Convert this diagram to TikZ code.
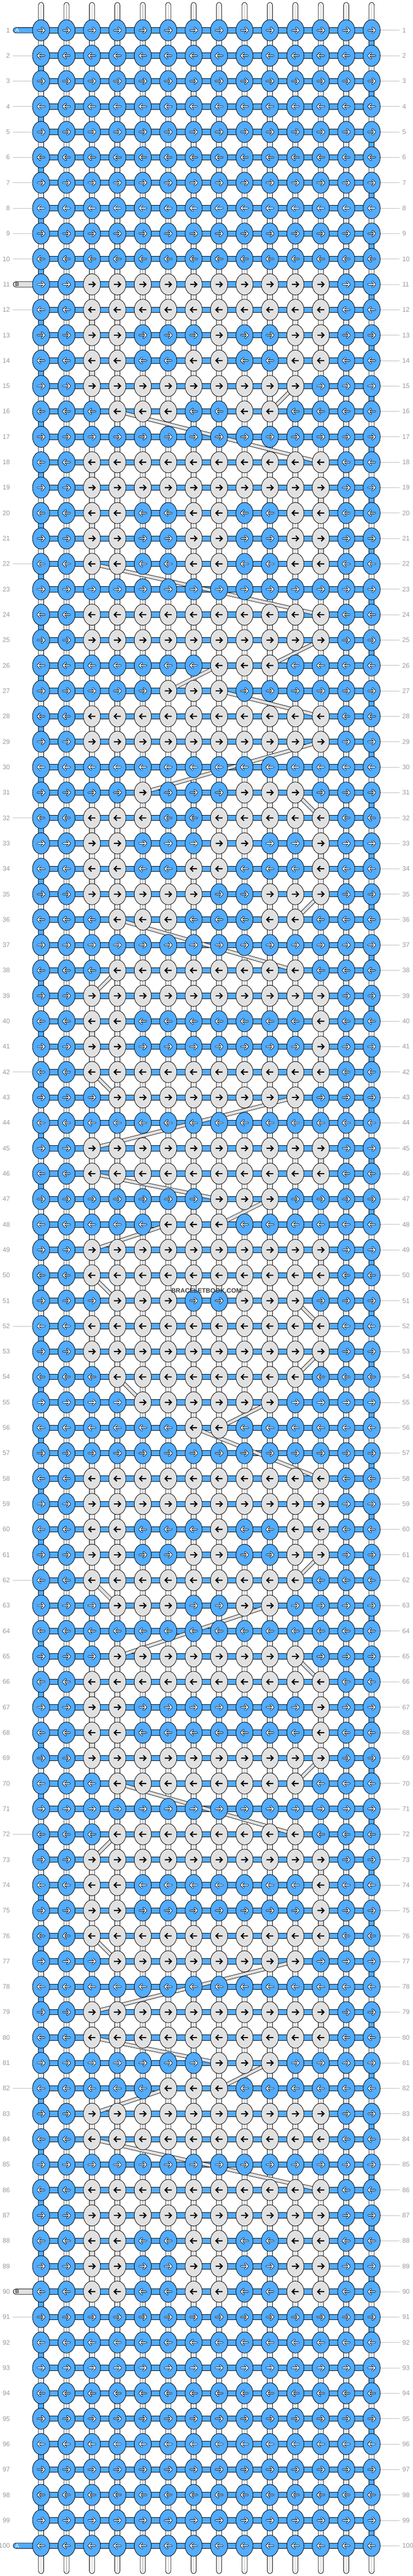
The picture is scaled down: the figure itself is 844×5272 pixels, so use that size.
\documentclass[tikz,border=0pt]{standalone}
\usepackage{fontspec}
\setmainfont{Liberation Sans}
\usetikzlibrary{shapes.geometric}
\definecolor{kblue}{RGB}{82,172,255}
\definecolor{kgrey}{RGB}{225,225,225}
\definecolor{lblc}{RGB}{155,155,155}
\definecolor{lnc}{RGB}{190,190,190}
\definecolor{strc}{RGB}{195,195,195}
\tikzset{
  knotshape/.style={ellipse, draw=black, line width=0.9pt, inner sep=0pt, minimum width=35pt, minimum height=43.4pt},
  knotb/.style={knotshape, fill=kblue},
  knotg/.style={knotshape, fill=kgrey},
  hseg/.style={draw=black, line width=0.9pt, fill=kblue},
  vstr/.style={draw=black, line width=0.9pt, fill=white, rounded corners=5.2pt},
  vcore/.style={draw=strc, line width=1.2pt},
  vturnb/.style={draw=black, line width=0.9pt, fill=kblue},
  vturng/.style={draw=black, line width=0.9pt, fill=kgrey},
  bandout/.style={draw=black, line width=7.6pt},
  bandin/.style={draw=kgrey, line width=5.8pt},
  arrowout/.style={draw=black, line width=3.6pt, line cap=round, line join=round},
  arrowin/.style={draw=white, line width=1.7pt, line cap=round, line join=round},
  arrowdark/.style={draw=black, line width=2.3pt, line cap=butt, line join=miter},
  rowlbl/.style={text=lblc, font=\fontsize{13.5}{14}\selectfont, inner sep=0pt},
  lblline/.style={draw=lnc, line width=0.9pt},
  stubtxt/.style={font=\fontsize{11.5}{12}\selectfont, inner sep=0pt},
  pics/karrow/.style={code={
    \draw[arrowout] (-7,0) -- (7,0) (1.5,-5.5) -- (7,0) -- (1.5,5.5);
    \draw[arrowin] (-7,0) -- (7,0) (1.5,-5.5) -- (7,0) -- (1.5,5.5);
  }},
  pics/karrowd/.style={code={
    \draw[arrowdark] (-7,0) -- (6,0) (1,-5.5) -- (6.5,0) -- (1,5.5);
  }},
}
\newcommand\setgrey[2]{\expandafter\def\csname gc#1\endcsname{#2}}
% B E N S O N
\setgrey{11}{2,...,11}
\setgrey{12}{2,...,11}
\setgrey{13}{2,3,7,10,11}
\setgrey{14}{2,3,6,7,10,11}
\setgrey{15}{2,...,10}
\setgrey{16}{3,4,5,8,9}
\setgrey{18}{2,...,11}
\setgrey{19}{2,...,11}
\setgrey{20}{2,3,6,7,10,11}
\setgrey{21}{2,3,6,7,10,11}
\setgrey{22}{2,3,6,7,10,11}
\setgrey{24}{2,...,11}
\setgrey{25}{2,...,11}
\setgrey{26}{7,8,9}
\setgrey{27}{5,6,7}
\setgrey{28}{2,...,11}
\setgrey{29}{2,...,11}
\setgrey{31}{4,8,9,10}
\setgrey{32}{2,3,4,7,8,9,10,11}
\setgrey{33}{2,3,7,8,11}
\setgrey{34}{2,3,6,7,11}
\setgrey{35}{2,3,4,5,6,9,10,11}
\setgrey{36}{3,4,5,9,10}
\setgrey{38}{3,...,10}
\setgrey{39}{2,...,11}
\setgrey{40}{2,3,11}
\setgrey{41}{2,3,11}
\setgrey{42}{2,...,11}
\setgrey{43}{3,...,10}
\setgrey{45}{2,...,11}
\setgrey{46}{2,...,11}
\setgrey{47}{7,8,9}
\setgrey{48}{5,6,7}
\setgrey{49}{2,...,11}
\setgrey{50}{2,...,11}
% separator
\setgrey{51}{3,4,5,8,9,10}
\setgrey{52}{2,...,11}
\setgrey{53}{2,...,11}
\setgrey{54}{3,...,10}
\setgrey{55}{4,...,9}
\setgrey{56}{6,7}
% B O O N E
\setgrey{58}{2,...,11}
\setgrey{59}{2,...,11}
\setgrey{60}{2,3,7,10,11}
\setgrey{61}{2,3,6,7,10,11}
\setgrey{62}{2,...,10}
\setgrey{63}{3,4,5,8,9}
\setgrey{65}{3,...,10}
\setgrey{66}{2,...,11}
\setgrey{67}{2,3,11}
\setgrey{68}{2,3,11}
\setgrey{69}{2,...,11}
\setgrey{70}{3,...,10}
\setgrey{72}{3,...,10}
\setgrey{73}{2,...,11}
\setgrey{74}{2,3,11}
\setgrey{75}{2,3,11}
\setgrey{76}{2,...,11}
\setgrey{77}{3,...,10}
\setgrey{79}{2,...,11}
\setgrey{80}{2,...,11}
\setgrey{81}{7,8,9}
\setgrey{82}{5,6,7}
\setgrey{83}{2,...,11}
\setgrey{84}{2,...,11}
\setgrey{86}{2,...,11}
\setgrey{87}{2,...,11}
\setgrey{88}{2,3,6,7,10,11}
\setgrey{89}{2,3,6,7,10,11}
\setgrey{90}{2,3,6,7,10,11}
\begin{document}
\begin{tikzpicture}[x=1pt,y=-1pt]
\fill[white] (0,0) rectangle (844,5272);
\useasboundingbox (0,0) rectangle (844,5272);
% grid points
\foreach \r in {1,...,100}{\foreach \c in {0,...,13}{\coordinate (p-\r-\c) at ({84+52*\c},{62+52*(\r-1)});}}
% vertical strings
\foreach \c in {0,...,13}{
  \draw[vstr] ({84+52*\c-5.25},5) rectangle ({84+52*\c+5.25},5267);
  \draw[vcore] ({84+52*\c},9) -- ({84+52*\c},5263);
}
% turns of string A at the edges
\foreach \r [evaluate=\r as \s using int(\r+1)] in {1,3,...,99}{\draw[vturnb] ([xshift=-5.25pt]p-\r-13) rectangle ([xshift=5.25pt]p-\s-13);}
\foreach \r [evaluate=\r as \s using int(\r+1)] in {2,4,...,98}{\draw[vturnb] ([xshift=-5.25pt]p-\r-0) rectangle ([xshift=5.25pt]p-\s-0);}
% turns of string B
\foreach \c/\r [evaluate=\r as \s using int(\r+1)] in {11/11,2/12,11/13,2/14,2/18,11/19,2/20,11/21,2/24,2/28,2/32,11/33,2/34,11/39,2/40,11/41,11/45,11/49,
    2/52,11/53,2/58,11/59,2/60,2/66,11/67,2/68,11/73,2/74,11/75,11/79,11/83,2/86,11/87,2/88,11/89}{
  \draw[vturng] ([xshift=-5.25pt]p-\r-\c) rectangle ([xshift=5.25pt]p-\s-\c);}
% horizontal strings
\foreach \r in {1,...,100}{\draw[hseg] ([yshift=5.5pt]p-\r-0) rectangle ([yshift=-5.5pt]p-\r-13);}
% stubs
\coordinate (sa1) at (27,62);
\coordinate (sb11) at (27,582);
\coordinate (sb90) at (27,4690);
\coordinate (sa100) at (27,5210);
\draw[hseg, rounded corners=5.5pt] ([yshift=5.5pt]sa1) rectangle ([yshift=-5.5pt]p-1-0);
\draw[hseg, fill=kgrey, rounded corners=5.5pt] ([yshift=5.5pt]sb11) rectangle ([yshift=-5.5pt]p-11-0);
\draw[hseg, fill=kgrey, rounded corners=5.5pt] ([yshift=5.5pt]sb90) rectangle ([yshift=-5.5pt]p-90-0);
\draw[hseg, rounded corners=5.5pt] ([yshift=5.5pt]sa100) rectangle ([yshift=-5.5pt]p-100-0);
\node[stubtxt, text=white] (ta1) at ([xshift=8pt]sa1) {A};
\node[stubtxt, text=black] (tb11) at ([xshift=8pt]sb11) {B};
\node[stubtxt, text=black] (tb90) at ([xshift=8pt]sb90) {B};
\node[stubtxt, text=white] (ta100) at ([xshift=8pt]sa100) {A};
% jumps of string B
\foreach \a/\b/\e/\f in {15/10/16/9,16/3/18/11,22/2/24/11,25/11/26/9,26/7/27/5,27/7/28/11,29/11/31/4,31/10/32/11,35/11/36/10,36/3/38/10,38/3/39/2,42/2/43/3,43/10/45/2,46/2/47/7,47/9/48/7,48/5/49/2,50/2/51/3,
    51/10/52/11,53/11/54/10,54/3/55/4,55/9/56/7,56/6/58/11,
    61/11/62/10,62/2/63/3,63/9/65/3,65/10/66/11,69/11/70/10,70/3/72/10,72/3/73/2,76/2/77/3,77/10/79/2,80/2/81/7,81/9/82/7,82/5/83/2,84/2/86/11}{
  \draw[bandout] (p-\a-\b) -- (p-\e-\f);
  \draw[bandin] (p-\a-\b) -- (p-\e-\f);
}
% knots
\foreach \r in {1,...,100}{
  \ifodd\r\relax \gdef\dd{1}\else \gdef\dd{-1}\fi
  \foreach \c in {0,...,13}{
    \gdef\isg{0}%
    \ifcsname gc\r\endcsname
      \edef\glist{\csname gc\r\endcsname}%
      \foreach \g in \glist {\ifnum\g=\c\relax \gdef\isg{1}\fi}%
    \fi
    \ifnum\isg=1\relax
      \node[knotg] (k-\r-\c) at (p-\r-\c) {};
      \pic[xscale=\dd] at (p-\r-\c) {karrowd};
    \else
      \node[knotb] (k-\r-\c) at (p-\r-\c) {};
      \pic[xscale=\dd] at (p-\r-\c) {karrow};
    \fi
  }
}
% row labels
\foreach \r in {1,...,100}{
  \node[rowlbl, anchor=east] (ll-\r) at (20.5,{62+52*(\r-1)}) {\r};
  \node[rowlbl, anchor=west] (rl-\r) at (822.5,{62+52*(\r-1)}) {\r};
  \draw[lblline] (k-\r-13.east) -- (817,{62+52*(\r-1)});
}
\foreach \r in {2,...,10,12,...,89,91,...,99}{
  \draw[lblline] (26,{62+52*(\r-1)}) -- (k-\r-0.west);
}
\node[text=black!75, font=\bfseries\fontsize{13}{14}\selectfont, inner sep=0pt] (wm) at (422,2641) {BRACELETBOOK.COM};
\end{tikzpicture}
\end{document}
